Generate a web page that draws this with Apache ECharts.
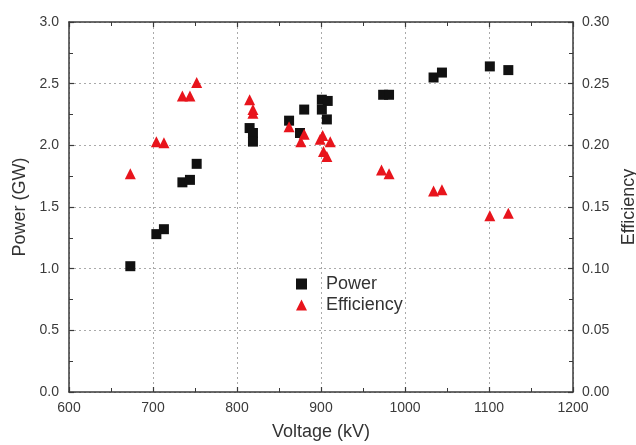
<!DOCTYPE html>
<html>
<head>
<meta charset="utf-8">
<script src="https://cdn.jsdelivr.net/npm/echarts@6/dist/echarts.min.js"></script>
<style>
  html, body { margin: 0; padding: 0; background: #fff; }
  #chart { width: 636px; height: 445px; }
</style>
</head>
<body>
<div id="chart"></div>
<script>
// Output power vs. voltage (left axis, GW)
const powerVoltage = [673, 704, 713, 735, 744, 752, 815, 819, 819, 862, 875, 880, 901, 908, 901, 907, 974, 981, 1034, 1044, 1101, 1123];
const powerValues  = [1.02, 1.28, 1.32, 1.70, 1.72, 1.85, 2.14, 2.10, 2.03, 2.20, 2.10, 2.29, 2.37, 2.36, 2.29, 2.21, 2.41, 2.41, 2.55, 2.59, 2.64, 2.61];

// Conversion efficiency vs. voltage (right axis)
const effVoltage = [673, 704, 713, 735, 744, 752, 815, 819, 819, 862, 880, 876, 902, 899, 911, 903, 907, 972, 981, 1034, 1044, 1101, 1123];
const effValues  = [0.177, 0.203, 0.202, 0.240, 0.240, 0.251, 0.237, 0.229, 0.226, 0.215, 0.209, 0.203, 0.208, 0.205, 0.203, 0.195, 0.191, 0.180, 0.177, 0.163, 0.164, 0.143, 0.145];

const xTicks = { min: 600, max: 1200, step: 100 };
const powerTicks = { min: 0, max: 3, step: 0.5 };
const effTicks = { min: 0, max: 0.3, step: 0.05 };

const zip = (xs, ys) => xs.map((x, i) => [x, ys[i]]);

const FONT = 'Liberation Sans, Arial, sans-serif';
const AXIS_COLOR = '#3a3a3a';
const LABEL_COLOR = '#3a3a3a';
const NAME_STYLE = { color: '#333', fontFamily: FONT, fontSize: 18 };
const GRID_LINE = { show: true, lineStyle: { color: '#aaaaaa', type: [2, 3], width: 1 } };

const axisCommon = {
  axisLine: { show: true, onZero: false, lineStyle: { color: AXIS_COLOR, width: 1.5 } },
  axisTick: { show: true, inside: true, length: 5, lineStyle: { color: AXIS_COLOR, width: 1.2 } },
  minorTick: { show: true, splitNumber: 2, length: 4, lineStyle: { color: AXIS_COLOR, width: 1 } },
  axisLabel: { color: LABEL_COLOR, fontFamily: FONT, fontSize: 14 }
};

const chart = echarts.init(document.getElementById('chart'), null, { renderer: 'canvas' });

chart.setOption({
  animation: false,
  backgroundColor: '#ffffff',
  grid: { left: 69, right: 63, top: 22, bottom: 53, containLabel: false, outerBoundsMode: 'none' },
  legend: {
    orient: 'vertical',
    left: 291,
    top: 270,
    itemGap: 3,
    itemWidth: 11,
    itemHeight: 11,
    textStyle: { color: '#333', fontFamily: FONT, fontSize: 18, padding: [0, 0, 0, 14] },
    data: ['Power', 'Efficiency']
  },
  xAxis: [
    Object.assign({}, axisCommon, {
      type: 'value',
      position: 'bottom',
      min: xTicks.min, max: xTicks.max, interval: xTicks.step,
      name: 'Voltage (kV)',
      nameLocation: 'middle',
      nameGap: 31,
      nameTextStyle: NAME_STYLE,
      axisLabel: Object.assign({}, axisCommon.axisLabel, {
        margin: 9,
        formatter: v => String(v)
      }),
      splitLine: GRID_LINE
    }),
    Object.assign({}, axisCommon, {
      type: 'value',
      position: 'top',
      min: xTicks.min, max: xTicks.max, interval: xTicks.step,
      axisLabel: { show: false },
      splitLine: { show: false }
    })
  ],
  yAxis: [
    Object.assign({}, axisCommon, {
      type: 'value',
      position: 'left',
      min: powerTicks.min, max: powerTicks.max, interval: powerTicks.step,
      name: 'Power (GW)',
      nameLocation: 'middle',
      nameGap: 35,
      nameRotate: 90,
      nameTextStyle: NAME_STYLE,
      axisLabel: Object.assign({}, axisCommon.axisLabel, {
        margin: 10,
        formatter: v => v.toFixed(1)
      }),
      splitLine: GRID_LINE
    }),
    Object.assign({}, axisCommon, {
      type: 'value',
      position: 'right',
      min: effTicks.min, max: effTicks.max, interval: effTicks.step,
      name: 'Efficiency',
      nameLocation: 'middle',
      nameGap: 43,
      nameRotate: 90,
      nameTextStyle: NAME_STYLE,
      axisLabel: Object.assign({}, axisCommon.axisLabel, {
        margin: 9,
        formatter: v => v.toFixed(2)
      }),
      splitLine: { show: false }
    })
  ],
  series: [
    {
      name: 'Power',
      type: 'scatter',
      xAxisIndex: 0,
      yAxisIndex: 0,
      symbol: 'rect',
      symbolSize: 10,
      itemStyle: { color: '#111111', opacity: 1 },
      data: zip(powerVoltage, powerValues)
    },
    {
      name: 'Efficiency',
      type: 'scatter',
      xAxisIndex: 0,
      yAxisIndex: 1,
      symbol: 'triangle',
      symbolSize: 11,
      itemStyle: { color: '#e8141c', opacity: 1 },
      data: zip(effVoltage, effValues)
    }
  ]
});
</script>
</body>
</html>
